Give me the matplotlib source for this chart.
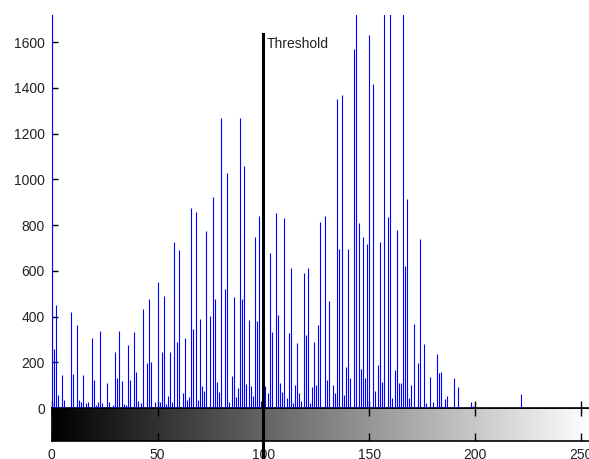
import matplotlib.pyplot as plt
import numpy as np

plt.rcParams['font.family'] = ['Liberation Sans', 'DejaVu Sans']

# grey levels (0-255) that have pixels, and how many pixels each has
levels = [0, 1, 2, 3, 5, 6, 9, 10, 12, 13, 14, 15, 16, 17, 19, 20, 21, 22, 23, 24,
          26, 27, 29, 30, 31, 32, 33, 34, 35, 36, 37, 39, 40, 41, 42, 43, 45, 46, 47, 49,
          50, 51, 52, 53, 54, 55, 56, 57, 58, 59, 60, 62, 63, 64, 65, 66, 67, 68, 69, 70,
          71, 72, 73, 75, 76, 77, 78, 79, 80, 82, 83, 84, 85, 86, 87, 88, 89, 90, 91, 92,
          93, 94, 95, 96, 97, 98, 99, 101, 102, 103, 104, 106, 107, 108, 109, 110, 111, 112, 113, 114,
          115, 116, 117, 118, 119, 120, 121, 122, 123, 124, 125, 126, 127, 129, 130, 131, 133, 134, 135, 136,
          137, 138, 139, 140, 141, 143, 144, 145, 146, 147, 148, 149, 150, 152, 153, 154, 155, 156, 157, 159,
          160, 161, 162, 163, 164, 165, 166, 167, 168, 169, 170, 171, 173, 174, 176, 177, 179, 180, 182, 183,
          184, 185, 186, 187, 188, 189, 190, 192, 194, 198, 199, 222]
counts = [1800, 258, 450, 57, 145, 35, 418, 150, 362, 35, 25, 145, 20, 25, 305, 122, 14, 25, 336, 22,
          110, 27, 14, 245, 131, 336, 120, 17, 13, 275, 122, 334, 157, 32, 23, 433, 195, 476, 200, 25,
          550, 25, 245, 490, 17, 52, 245, 27, 726, 288, 690, 66, 306, 35, 48, 874, 345, 857, 35, 389,
          96, 74, 774, 402, 922, 476, 114, 70, 1267, 520, 1027, 27, 140, 485, 48, 87, 1267, 476, 1058, 105,
          385, 96, 52, 747, 380, 840, 30, 96, 66, 677, 332, 852, 406, 109, 70, 830, 43, 328, 612, 22,
          100, 284, 66, 30, 590, 319, 612, 22, 92, 288, 100, 363, 813, 840, 122, 468, 100, 66, 1350, 695,
          1368, 57, 179, 695, 131, 1569, 1800, 808, 170, 747, 131, 716, 1630, 1416, 74, 188, 725, 114, 1800, 835,
          1800, 43, 166, 778, 109, 109, 1800, 621, 913, 43, 100, 367, 197, 738, 280, 22, 135, 27, 236, 153,
          157, 4, 39, 52, 4, 4, 131, 92, 4, 26, 10, 61]

threshold = 100
yticks = [0, 200, 400, 600, 800, 1000, 1200, 1400, 1600]
xticks = [0, 50, 100, 150, 200, 250]

fig = plt.figure(figsize=(5.89, 4.59), dpi=100)

# grey ramp under the histogram
cax = fig.add_axes([0.0878, 0.0392, 0.9161, 0.0719])
ramp = np.linspace(0, 1, 256)[np.newaxis, :]
cax.imshow(ramp, cmap='gray', aspect='auto', extent=[0, 255, 0, 1],
           interpolation='bilinear')
cax.set_xlim(0, 255)
cax.set_ylim(0, 1)
cax.set_yticks([])
cax.set_xticks(xticks)
cax.tick_params(axis='x', which='both', direction='in', length=6, width=1,
                top=True, bottom=True, labelsize=10, pad=5, labelcolor='#222222')
for s in cax.spines.values():
    s.set_linewidth(1.2)
    s.set_color('black')

ax = fig.add_axes([0.0878, 0.1111, 0.9161, 0.8562])
ax.vlines(levels, 0, counts, color='#0000ff', linewidth=0.8, zorder=3)
ax.set_xlim(0, 255)
ax.set_ylim(0, 1718)
ax.set_yticks(yticks)
ax.set_xticks(xticks)
ax.tick_params(axis='x', direction='in', length=5, width=1, labelbottom=False)
ax.tick_params(axis='y', direction='in', length=4, width=1, labelsize=10, pad=5,
               labelcolor='#222222')
ax.spines['top'].set_visible(False)
ax.spines['right'].set_visible(False)
ax.spines['bottom'].set_linewidth(1.2)

# threshold marker runs down through the grey ramp
ax.plot([threshold, threshold], [1637, -400], color='black', linewidth=2.2,
        clip_on=False, zorder=5)
ax.text(threshold + 1.7, 1590, 'Threshold', fontsize=10, color='#222222',
        ha='left', va='center')

fig.savefig('out.png', dpi=100)
